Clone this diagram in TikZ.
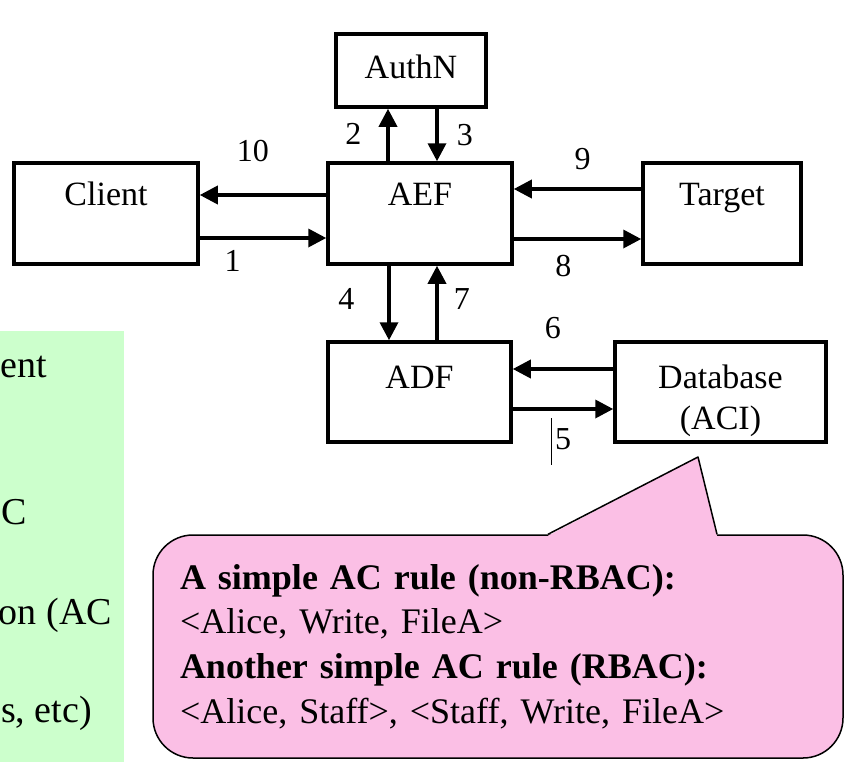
\documentclass[tikz,border=0pt]{standalone}
\usepackage{fontspec}
\setmainfont{Liberation Serif}
\usetikzlibrary{arrows.meta, positioning, calc}
\definecolor{acgreen}{HTML}{CCFFCC}
\definecolor{acpink}{HTML}{FBBFE5}

\begin{document}
\begin{tikzpicture}[
    x=1pt, y=-1pt,
    >={Triangle[length=18pt, width=18pt]},
    box/.style={rectangle, draw=black, line width=3.5pt, inner sep=0pt, align=center, font=\fontsize{34}{41}\selectfont},
    flow/.style={->, line width=3.5pt},
    num/.style={inner sep=0pt, font=\fontsize{32}{38}\selectfont},
    note/.style={rectangle, rounded corners=40pt, draw=black, line width=1.5pt, fill=acpink, minimum width=690pt, minimum height=223pt, text width=636pt, inner xsep=27pt, align=left, font=\fontsize{36}{44.7}\selectfont},
    side/.style={anchor=base east, inner sep=0pt, font=\fontsize{38}{45}\selectfont}
]
\useasboundingbox (0,0) rectangle (854,774);

% Slide text behind (cut off at the left)
\fill[acgreen] (0,331) rectangle (124,762);
\node[side] (side1) at (47,377) {ent};
\node[side] (side2) at (27,524) {C};
\node[side] (side3) at (112,624) {on (AC};
\node[side] (side4) at (92,722) {s, etc)};

% Top row
\node[box, minimum width=150pt, text height=44pt, text depth=29pt] (authn) at (411,70.5) {AuthN};
\node[box, minimum width=184pt, text height=42pt, text depth=59pt] (client) at (106,213.5) {Client};
\node[box, minimum width=184pt, text height=42pt, text depth=59pt] (aef) at (420,213.5) {AEF};
\node[box, minimum width=158pt, text height=42pt, text depth=59pt] (target) at (722,213.5) {Target};

% Bottom row
\node[box, minimum width=183pt, text height=46pt, text depth=54pt] (adf) at (419.5,392) {ADF};
\node[box, minimum width=211pt, text height=87pt, text depth=13pt] (db) at (720.5,392) {Database\\(ACI)};

% Connections
\draw[flow] (client.east |- 0,238) -- node[num, pos=0.26, below=11pt] {1} (aef.west |- 0,238);
\draw[flow] (aef.north -| 388,0) -- node[num, pos=0.52, left=25pt] {2} (authn.south -| 388,0);
\draw[flow] (authn.south -| 437,0) -- node[num, pos=0.5, right=18pt] {3} (aef.north -| 437,0);
\draw[flow] (aef.south -| 389,0) -- node[num, pos=0.44, left=33pt] {4} (adf.north -| 389,0);
\draw[flow] (adf.east |- 0,409) -- node[num, pos=0.5, below=18pt] (five) {5} (db.west |- 0,409);
\draw[flow] (db.west |- 0,369) -- node[num, pos=0.6, above=28pt] {6} (adf.east |- 0,369);
\draw[flow] (adf.north -| 437,0) -- node[num, pos=0.56, right=15pt] {7} (aef.south -| 437,0);
\draw[flow] (aef.east |- 0,239) -- node[num, pos=0.39, below=14pt] {8} (target.west |- 0,239);
\draw[flow] (target.west |- 0,189) -- node[num, pos=0.46, above=17pt] {9} (aef.east |- 0,189);
\draw[flow] (aef.west |- 0,195) -- node[num, pos=0.58, above=31pt] {10} (client.east |- 0,195);
\draw[line width=0.8pt] ([xshift=-2pt, yshift=9pt]five.north west) -- ([xshift=-2pt, yshift=-13pt]five.south west);

% Rule callout
\node[note] (rule) at (498,646.5) {\textbf{A simple AC rule (non-RBAC):}\\
<Alice, Write, FileA>\\
\textbf{Another simple AC rule (RBAC):}\\
<Alice, Staff>, <Staff, Write, FileA>};
\coordinate (tip) at (698,457);
\fill[acpink] ($(rule.north -| 548,0)+(0,1.5)$) -- (tip) -- ($(rule.north -| 717,0)+(0,1.5)$) -- cycle;
\draw[line width=1.5pt, line join=round] (rule.north -| 548,0) -- (tip) -- (rule.north -| 717,0);
\end{tikzpicture}
\end{document}
